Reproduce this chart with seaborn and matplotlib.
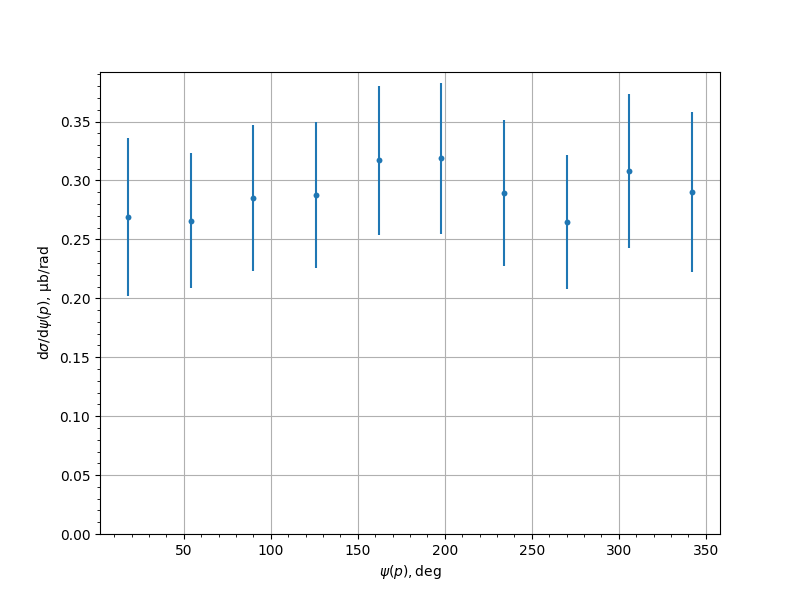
import numpy as np
import matplotlib
matplotlib.use("Agg")
import matplotlib.pyplot as plt
import seaborn as sns

# angle bins (deg), cross section and its error
psi = [18, 54, 90, 126, 162, 198, 234, 270, 306, 342]
dsigma = [0.269, 0.266, 0.285, 0.288, 0.317, 0.319, 0.289, 0.265, 0.308, 0.290]
dsigma_err = [0.067, 0.057, 0.062, 0.062, 0.063, 0.064, 0.062, 0.057, 0.065, 0.068]

fig, ax = plt.subplots(figsize=(8, 6), dpi=100)

ax.errorbar(psi, dsigma, yerr=dsigma_err, fmt="none", ecolor="#1f77b4", lw=1.5)
sns.scatterplot(x=psi, y=dsigma, ax=ax, color="#1f77b4", s=18, linewidth=0, zorder=3)

ax.set_ylim(bottom=0)
ax.minorticks_on()
ax.grid(True, which="major")
ax.set_xlabel(r"$\psi(p), \mathrm{deg}$")
ax.set_ylabel(r"$\mathrm{d}\sigma/\mathrm{d}\psi(p)$, μb/rad")

fig.savefig("out.png", dpi=100)
